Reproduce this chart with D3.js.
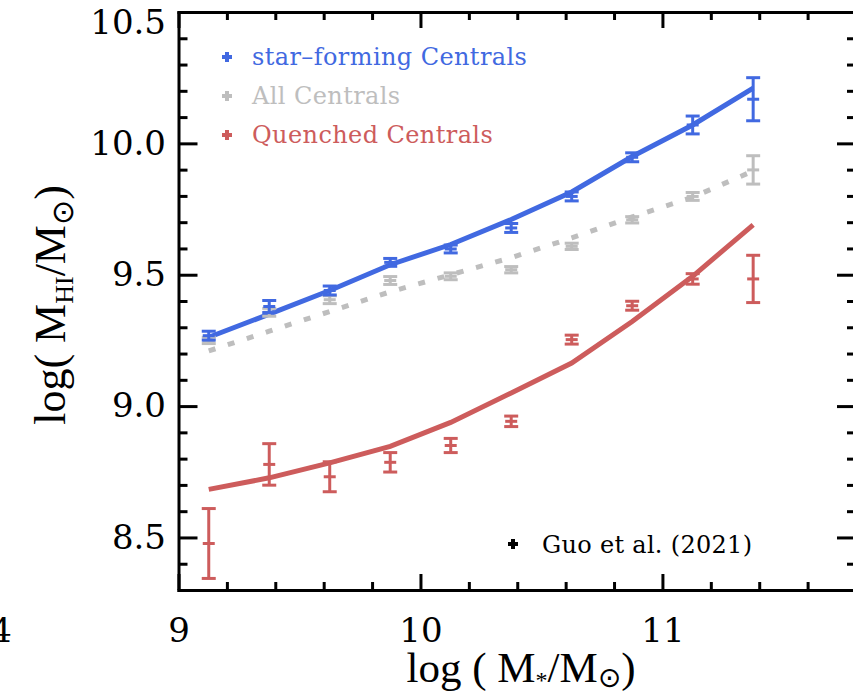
<!DOCTYPE html>
<html>
<head>
<meta charset="utf-8">
<script src="https://cdn.jsdelivr.net/npm/d3@7"></script>
<style>
  html, body { margin: 0; padding: 0; background: #ffffff; }
  svg { display: block; }
</style>
</head>
<body>
<svg id="chart" width="853" height="695"></svg>
<script>
// Stellar-mass bin centres, log(M*/Msun)
const massBins = [9.125, 9.375, 9.625, 9.875, 10.125, 10.375, 10.625, 10.875, 11.125, 11.375];

// Model curves, log(M_HI/Msun)
const sfModel  = [9.262, 9.350, 9.440, 9.538, 9.615, 9.710, 9.815, 9.950, 10.070, 10.210];
const allModel = [9.210, 9.285, 9.360, 9.435, 9.500, 9.565, 9.640, 9.720, 9.795, 9.895];
const qModel   = [8.683, 8.727, 8.784, 8.847, 8.938, 9.050, 9.164, 9.322, 9.494, 9.690];

// Guo et al. (2021) measurements and their errors
const sfObs  = [9.268, 9.379, 9.440, 9.547, 9.598, 9.678, 9.798, 9.947, 10.070, 10.168];
const sfErr  = [0.017, 0.023, 0.017, 0.015, 0.015, 0.017, 0.017, 0.017, 0.034, 0.082];
const allObs = [9.250, 9.357, 9.405, 9.478, 9.494, 9.519, 9.608, 9.709, 9.798, 9.899];
const allErr = [0.012, 0.015, 0.015, 0.015, 0.013, 0.012, 0.012, 0.012, 0.015, 0.054];
const qObs   = [8.477, 8.778, 8.731, 8.786, 8.850, 8.942, 9.253, 9.382, 9.484, 9.484];
const qErr   = [0.133, 0.079, 0.057, 0.037, 0.027, 0.020, 0.017, 0.017, 0.020, 0.090];

// Axis ticks
const xMajor = [9, 10, 11];
const xMinor = d3.range(9, 11.81, 0.2).map(v => +v.toFixed(1));
const yMajor = [8.5, 9.0, 9.5, 10.0, 10.5];
const yMinor = d3.range(8.3, 10.51, 0.1).map(v => +v.toFixed(1));

const legendNames  = ["star\u2013forming Centrals", "All Centrals", "Quenched Centrals"];
const legendColors = ["#4169e1", "#bebebe", "#cd5c5c"];

const BLUE = "#4169e1", GREY = "#bebebe", RED = "#cd5c5c";
const NUM_FONT = "'DejaVu Serif', serif";
const TITLE_FONT = "'Liberation Serif', 'Times New Roman', serif";

const svg = d3.select("#chart");
const plot = { left: 178.5, right: 856, top: 12, bottom: 590 };

const x = d3.scaleLinear().domain([9, 11.8]).range([plot.left, plot.right]);
const y = d3.scaleLinear().domain([8.3, 10.5]).range([plot.bottom, plot.top]);

// ---------- axes ----------
function styleAxis(g, width) {
  g.selectAll("path.domain").attr("stroke", "#000").attr("stroke-width", width).attr("stroke-linecap", "square");
  g.selectAll(".tick line").attr("stroke", "#000").attr("stroke-width", 3);
  g.selectAll("text").attr("font-family", NUM_FONT).attr("font-size", 34).attr("fill", "#000");
}

// bottom
const gxB = svg.append("g").attr("transform", `translate(0,${plot.bottom})`)
  .call(d3.axisBottom(x).tickValues(xMajor).tickSize(-16).tickSizeOuter(0).tickPadding(28).tickFormat(d3.format("d")));
styleAxis(gxB, 3);
const gxBm = svg.append("g").attr("transform", `translate(0,${plot.bottom})`)
  .call(d3.axisBottom(x).tickValues(xMinor.filter(v => !xMajor.includes(v))).tickSize(-8).tickSizeOuter(0).tickFormat(""));
gxBm.select("path.domain").remove();
styleAxis(gxBm, 3);

// top
const gxT = svg.append("g").attr("transform", `translate(0,${plot.top})`)
  .call(d3.axisTop(x).tickValues(xMajor).tickSize(-16).tickSizeOuter(0).tickFormat(""));
styleAxis(gxT, 3);
const gxTm = svg.append("g").attr("transform", `translate(0,${plot.top})`)
  .call(d3.axisTop(x).tickValues(xMinor.filter(v => !xMajor.includes(v))).tickSize(-8).tickSizeOuter(0).tickFormat(""));
gxTm.select("path.domain").remove();
styleAxis(gxTm, 3);

// left
const gyL = svg.append("g").attr("transform", `translate(${plot.left},0)`)
  .call(d3.axisLeft(y).tickValues(yMajor).tickSize(-19).tickSizeOuter(0).tickPadding(12.5).tickFormat(d3.format(".1f")));
styleAxis(gyL, 3);
// keep the topmost label inside the frame
gyL.selectAll(".tick text").filter(d => d === 10.5).attr("dy", "0.62em");
const gyLm = svg.append("g").attr("transform", `translate(${plot.left},0)`)
  .call(d3.axisLeft(y).tickValues(yMinor.filter(v => !yMajor.includes(v))).tickSize(-9).tickSizeOuter(0).tickFormat(""));
gyLm.select("path.domain").remove();
styleAxis(gyLm, 3);

// right
const gyR = svg.append("g").attr("transform", `translate(${plot.right},0)`)
  .call(d3.axisRight(y).tickValues(yMajor).tickSize(-19).tickSizeOuter(0).tickFormat(""));
styleAxis(gyR, 3);
const gyRm = svg.append("g").attr("transform", `translate(${plot.right},0)`)
  .call(d3.axisRight(y).tickValues(yMinor.filter(v => !yMajor.includes(v))).tickSize(-9).tickSizeOuter(0).tickFormat(""));
gyRm.select("path.domain").remove();
styleAxis(gyRm, 3);

// edge of the neighbouring panel's last x label
svg.append("text").attr("x", 12).attr("y", 642).attr("text-anchor", "end")
  .attr("font-family", NUM_FONT).attr("font-size", 34).text("4");

// ---------- axis titles ----------
const xt = svg.append("text")
  .attr("x", 521).attr("y", 682).attr("text-anchor", "middle")
  .attr("font-family", TITLE_FONT).attr("font-size", 43).attr("fill", "#000");
xt.append("tspan").text("log ( M");
xt.append("tspan").attr("font-size", 24).attr("dy", 6).text("*");
xt.append("tspan").attr("dy", -6).text("/M");
xt.append("tspan").attr("font-size", 28).attr("dy", 5).attr("font-family", "'DejaVu Sans', sans-serif").text("\u2299");
xt.append("tspan").attr("dy", -5).text(")");

const yt = svg.append("text")
  .attr("transform", "translate(65,305) rotate(-90)")
  .attr("text-anchor", "middle")
  .attr("font-family", TITLE_FONT).attr("font-size", 44).attr("fill", "#000");
yt.append("tspan").text("log( M");
yt.append("tspan").attr("font-size", 26).attr("dy", 8).text("HI");
yt.append("tspan").attr("dy", -8).text("/M");
yt.append("tspan").attr("font-size", 30).attr("dy", 8).attr("font-family", "'DejaVu Sans', sans-serif").text("\u2299");
yt.append("tspan").attr("dy", -8).text(")");

// ---------- model curves ----------
const line = d3.line().x(d => x(d[0])).y(d => y(d[1]));

svg.append("path")
  .datum(massBins.map((m, i) => [m, allModel[i]]))
  .attr("d", line).attr("fill", "none").attr("stroke", GREY)
  .attr("stroke-width", 5).attr("stroke-dasharray", "7,13");

svg.append("path")
  .datum(massBins.map((m, i) => [m, sfModel[i]]))
  .attr("d", line).attr("fill", "none").attr("stroke", BLUE).attr("stroke-width", 5);

svg.append("path")
  .datum(massBins.map((m, i) => [m, qModel[i]]))
  .attr("d", line).attr("fill", "none").attr("stroke", RED).attr("stroke-width", 5);

// ---------- error bars ----------
function errorBars(vals, errs, color) {
  const g = svg.append("g").attr("stroke", color).attr("stroke-width", 3).attr("fill", "none");
  massBins.forEach((m, i) => {
    const cx = x(m);
    const yc = y(vals[i]), y0 = y(vals[i] - errs[i]), y1 = y(vals[i] + errs[i]);
    g.append("line").attr("x1", cx).attr("x2", cx).attr("y1", y0).attr("y2", y1);
    g.append("line").attr("x1", cx - 7).attr("x2", cx + 7).attr("y1", y0).attr("y2", y0);
    g.append("line").attr("x1", cx - 7).attr("x2", cx + 7).attr("y1", y1).attr("y2", y1);
    g.append("line").attr("x1", cx - 6).attr("x2", cx + 6).attr("y1", yc).attr("y2", yc);
  });
}
errorBars(allObs, allErr, GREY);
errorBars(sfObs, sfErr, BLUE);
errorBars(qObs, qErr, RED);

// ---------- legends ----------
const plus = "M-5,0H5M0,-5V5";
const legend = svg.append("g");
legendNames.forEach((name, i) => {
  const yy = 57 + i * 39;
  legend.append("path").attr("d", plus).attr("transform", `translate(227,${yy})`)
    .attr("stroke", legendColors[i]).attr("stroke-width", 4).attr("fill", "none");
  legend.append("text").attr("x", 252).attr("y", yy + 8)
    .attr("font-family", NUM_FONT).attr("font-size", 24).attr("letter-spacing", 0.4)
    .attr("fill", legendColors[i]).text(name);
});

svg.append("path").attr("d", plus).attr("transform", "translate(513,544)")
  .attr("stroke", "#000").attr("stroke-width", 4).attr("fill", "none");
svg.append("text").attr("x", 542).attr("y", 553)
  .attr("font-family", NUM_FONT).attr("font-size", 24).attr("letter-spacing", 0.3).attr("fill", "#000")
  .text("Guo et al. (2021)");
</script>
</body>
</html>
